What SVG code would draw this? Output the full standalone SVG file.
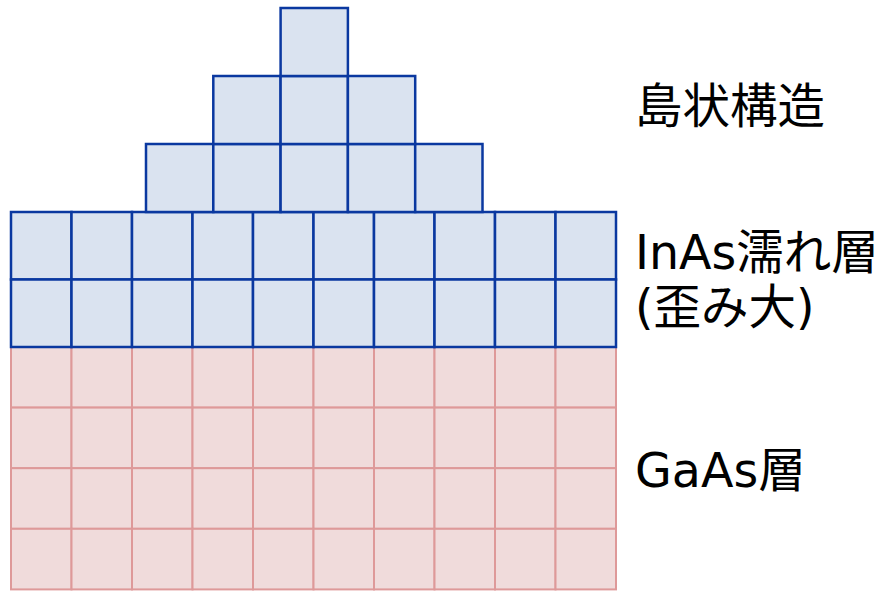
<svg xmlns="http://www.w3.org/2000/svg" width="886" height="591" viewBox="0 0 886 591">
<style>
.b{fill:#dae3f0;stroke:#0a38a0;stroke-width:2.5}
.p{fill:#f0dbdb;stroke:#de9999;stroke-width:2}
.t{font-family:"DejaVu Sans","Noto Sans CJK JP",sans-serif;font-size:47.5px;fill:#000}
</style>
<defs>
<rect id="bc" class="b" width="67.3" height="68"/>
<rect id="wc" class="b" width="60.5" height="67.5"/>
<rect id="pc" class="p" width="60.5" height="60.6"/>
</defs>
<g id="gaas-layer">
<g id="gaas-r1">
<use href="#pc" x="11" y="347"/><use href="#pc" x="71.5" y="347"/><use href="#pc" x="132" y="347"/><use href="#pc" x="192.5" y="347"/><use href="#pc" x="253" y="347"/><use href="#pc" x="313.5" y="347"/><use href="#pc" x="374" y="347"/><use href="#pc" x="434.5" y="347"/><use href="#pc" x="495" y="347"/><use href="#pc" x="555.5" y="347"/>
</g>
<g id="gaas-r2">
<use href="#pc" x="11" y="407.6"/><use href="#pc" x="71.5" y="407.6"/><use href="#pc" x="132" y="407.6"/><use href="#pc" x="192.5" y="407.6"/><use href="#pc" x="253" y="407.6"/><use href="#pc" x="313.5" y="407.6"/><use href="#pc" x="374" y="407.6"/><use href="#pc" x="434.5" y="407.6"/><use href="#pc" x="495" y="407.6"/><use href="#pc" x="555.5" y="407.6"/>
</g>
<g id="gaas-r3">
<use href="#pc" x="11" y="468.2"/><use href="#pc" x="71.5" y="468.2"/><use href="#pc" x="132" y="468.2"/><use href="#pc" x="192.5" y="468.2"/><use href="#pc" x="253" y="468.2"/><use href="#pc" x="313.5" y="468.2"/><use href="#pc" x="374" y="468.2"/><use href="#pc" x="434.5" y="468.2"/><use href="#pc" x="495" y="468.2"/><use href="#pc" x="555.5" y="468.2"/>
</g>
<g id="gaas-r4">
<use href="#pc" x="11" y="528.8"/><use href="#pc" x="71.5" y="528.8"/><use href="#pc" x="132" y="528.8"/><use href="#pc" x="192.5" y="528.8"/><use href="#pc" x="253" y="528.8"/><use href="#pc" x="313.5" y="528.8"/><use href="#pc" x="374" y="528.8"/><use href="#pc" x="434.5" y="528.8"/><use href="#pc" x="495" y="528.8"/><use href="#pc" x="555.5" y="528.8"/>
</g>
</g>
<g id="inas-layer">
<g id="inas-r1">
<use href="#wc" x="11" y="212"/><use href="#wc" x="71.5" y="212"/><use href="#wc" x="132" y="212"/><use href="#wc" x="192.5" y="212"/><use href="#wc" x="253" y="212"/><use href="#wc" x="313.5" y="212"/><use href="#wc" x="374" y="212"/><use href="#wc" x="434.5" y="212"/><use href="#wc" x="495" y="212"/><use href="#wc" x="555.5" y="212"/>
</g>
<g id="inas-r2">
<use href="#wc" x="11" y="279.5"/><use href="#wc" x="71.5" y="279.5"/><use href="#wc" x="132" y="279.5"/><use href="#wc" x="192.5" y="279.5"/><use href="#wc" x="253" y="279.5"/><use href="#wc" x="313.5" y="279.5"/><use href="#wc" x="374" y="279.5"/><use href="#wc" x="434.5" y="279.5"/><use href="#wc" x="495" y="279.5"/><use href="#wc" x="555.5" y="279.5"/>
</g>
</g>
<g id="island">
<g id="island-r3">
<use href="#bc" x="146" y="144"/><use href="#bc" x="213.3" y="144"/><use href="#bc" x="280.6" y="144"/><use href="#bc" x="347.9" y="144"/><use href="#bc" x="415.2" y="144"/>
</g>
<g id="island-r2">
<use href="#bc" x="213.3" y="76"/><use href="#bc" x="280.6" y="76"/><use href="#bc" x="347.9" y="76"/>
</g>
<g id="island-r1">
<use href="#bc" x="280.6" y="8"/>
</g>
</g>
<g id="connectors"/>
<g id="labels">
<text id="label-island" class="t" x="635" y="123">島状構造</text>
<text id="label-inas" class="t" x="635" y="269">InAs濡れ層</text>
<text id="label-inas2" class="t" x="635" y="324">(歪み大)</text>
<text id="label-gaas" class="t" x="635" y="487">GaAs層</text>
</g>
</svg>
